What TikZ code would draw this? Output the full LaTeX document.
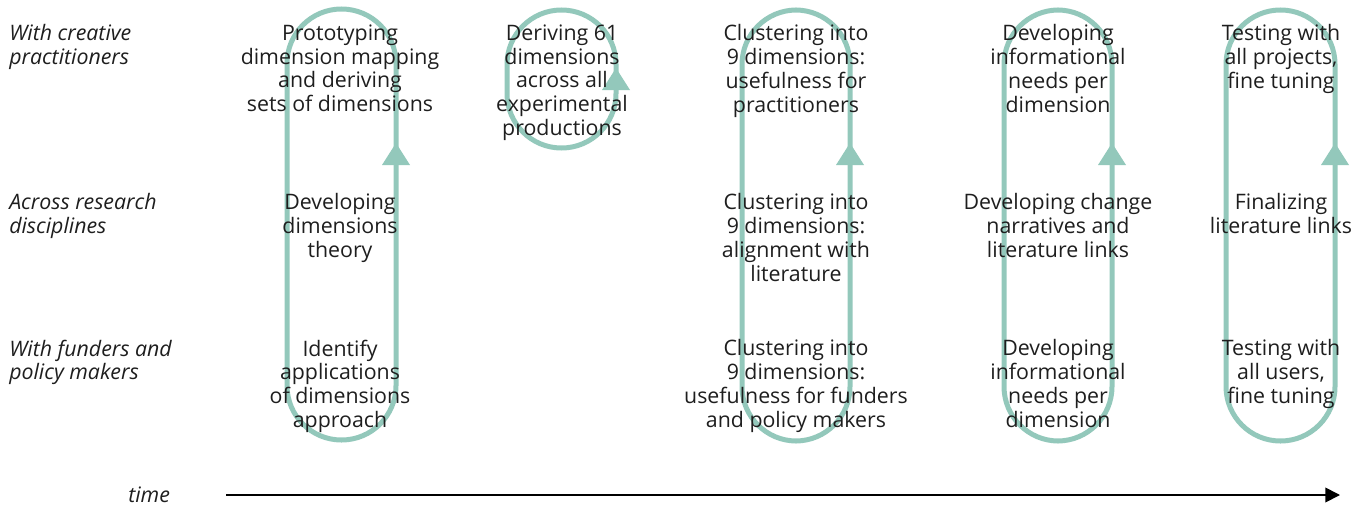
\documentclass[tikz,border=0pt]{standalone}
\usepackage{fontspec}
\setmainfont{Open Sans}
\usetikzlibrary{arrows.meta}
\definecolor{loopgreen}{RGB}{147,200,187}
\definecolor{inkgrey}{RGB}{30,30,30}
\tikzset{
  task/.style={anchor=north, align=center, inner sep=0pt, text=inkgrey,
    font=\fontsize{16}{17.8}\selectfont},
  lane/.style={anchor=north west, align=left, inner sep=0pt, text=inkgrey,
    font=\fontsize{16}{17.8}\selectfont\itshape},
  loopline/.style={draw=loopgreen, line width=3.75pt, rounded corners=40.8pt},
  looptip/.style={fill=loopgreen}
}
\begin{document}
\begin{tikzpicture}[x=0.75pt,y=-0.75pt]
\useasboundingbox (0,0) rectangle (1366,510);

% iteration loops: left x, right x, top, bottom, tip y
\foreach \l/\r/\t/\b/\a in {287/396/9/440/143, 507/616/10/148/68,
    742/850/10/441/143, 1004/1112/10/441/143, 1226/1335/10/441/143}{
  \draw[loopline] (\l,\t) rectangle (\r,\b);
  \fill[looptip] (\r,\a) -- (\r+14,\a+22) -- (\r-14,\a+22) -- cycle;
}

% lanes
\node[lane] (creative) at (9,24.5) {With creative\\practitioners};
\node[lane] (research) at (9,193.5) {Across research\\disciplines};
\node[lane] (funders) at (9,339.5) {With funders and\\policy makers};

% with creative practitioners
\node[task] (proto) at (340,24.5) {Prototyping\\dimension mapping\\and deriving\\sets of dimensions};
\node[task] (derive) at (562,24.5) {Deriving 61\\dimensions\\across all\\experimental\\productions};
\node[task] (clusterpract) at (796,24.5) {Clustering into\\9 dimensions:\\usefulness for\\practitioners};
\node[task] (needspract) at (1058,24.5) {Developing\\informational\\needs per\\dimension};
\node[task] (testproj) at (1281,24.5) {Testing with\\all projects,\\fine tuning};

% across research disciplines
\node[task] (theory) at (340,193.5) {Developing\\dimensions\\theory};
\node[task] (clusterlit) at (796,193.5) {Clustering into\\9 dimensions:\\alignment with\\literature};
\node[task] (narratives) at (1058,193.5) {Developing change\\narratives and\\literature links};
\node[task] (finallit) at (1281,193.5) {Finalizing\\literature links};

% with funders and policy makers
\node[task] (identify) at (340,339.5) {Identify\\applications\\of dimensions\\approach};
\node[task] (clusterfund) at (796,339.5) {Clustering into\\9 dimensions:\\usefulness for funders\\and policy makers};
\node[task] (needsfund) at (1058,339.5) {Developing\\informational\\needs per\\dimension};
\node[task] (testusers) at (1281,339.5) {Testing with\\all users,\\fine tuning};

% time axis
\node[lane, anchor=base west] (time) at (128,502) {time};
\coordinate (tstart) at (226,495);
\coordinate (tend) at (1340,495);
\draw[line width=1.3pt, -{Triangle[length=11pt,width=11pt]}] (tstart) -- (tend);
\end{tikzpicture}
\end{document}
